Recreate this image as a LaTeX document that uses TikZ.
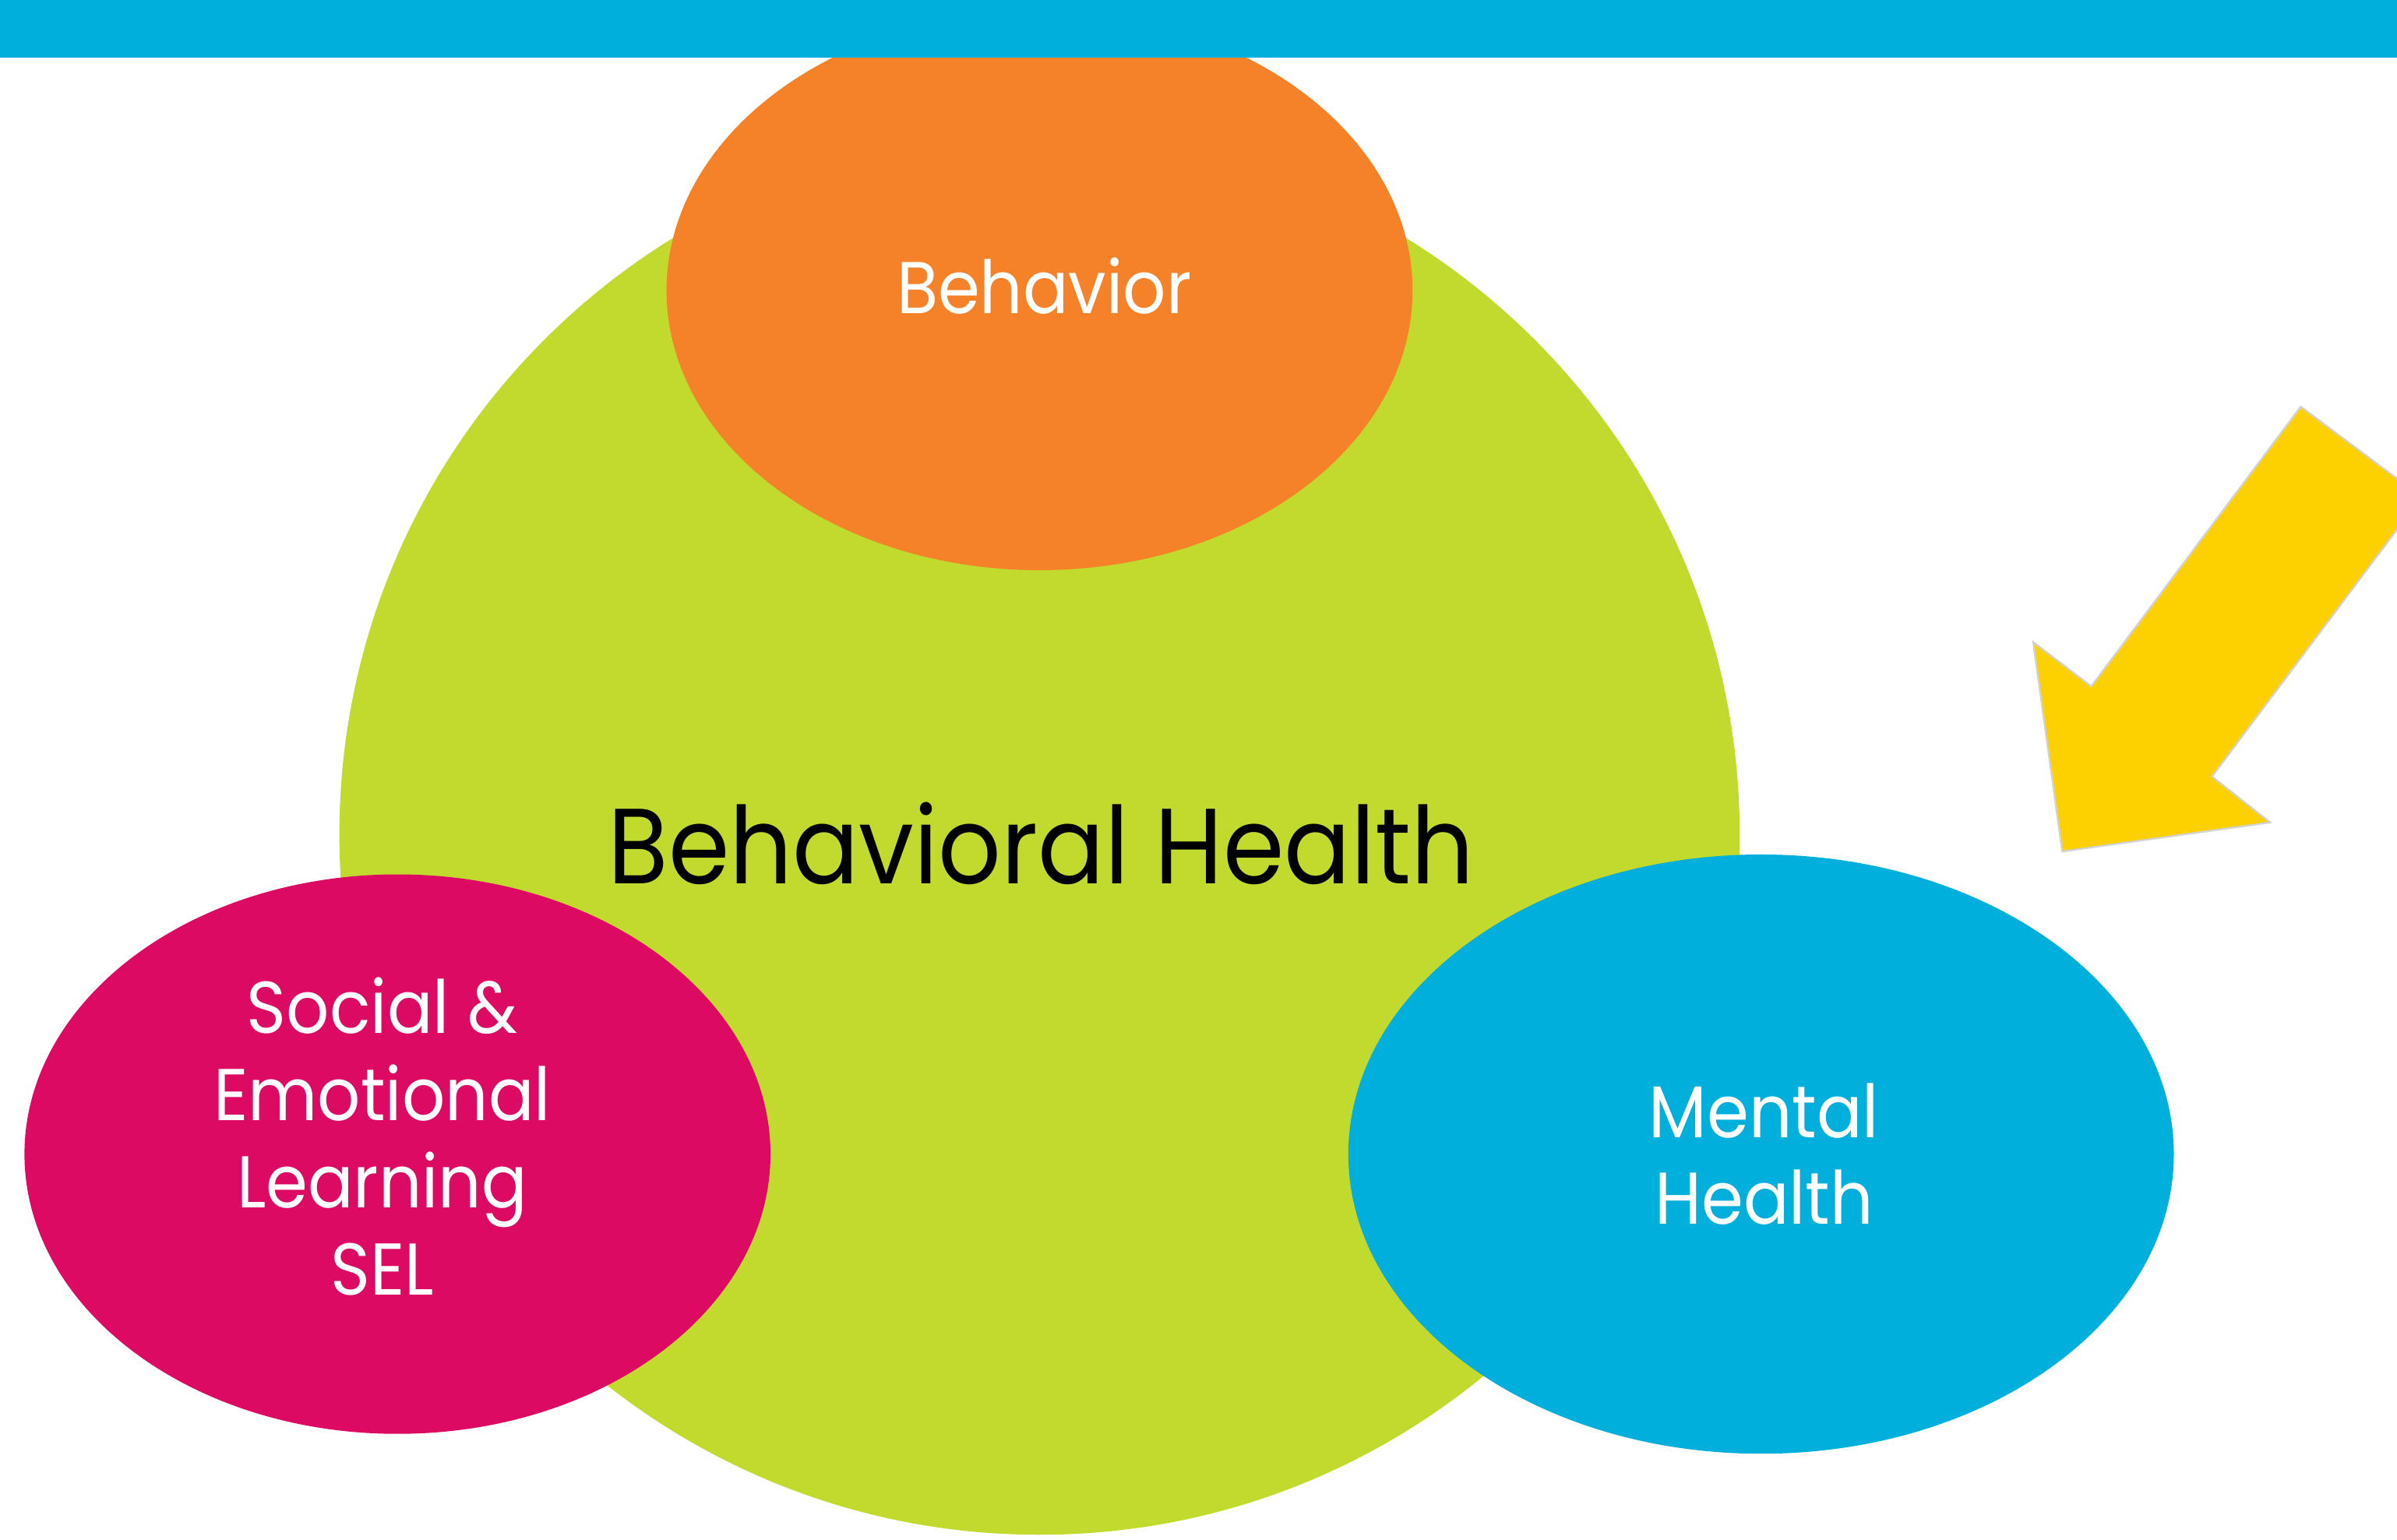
\documentclass[tikz,border=0pt]{standalone}
\usepackage{fontspec}
\setmainfont{Poppins}[FakeStretch=0.92]
\usetikzlibrary{shapes.geometric}
\definecolor{barblue}{RGB}{0,175,219}
\definecolor{bhgreen}{RGB}{194,217,46}
\definecolor{bhorange}{RGB}{245,130,40}
\definecolor{bhpink}{RGB}{220,10,98}
\definecolor{bhyellow}{RGB}{253,208,0}
\tikzset{
  blob/.style={ellipse, inner sep=0pt, draw=none},
  whitelbl/.style={text=white, font=\fontsize{24}{28.5}\selectfont, align=center, inner sep=0pt},
}
\begin{document}
\begin{tikzpicture}[x=0.5pt,y=-0.5pt]
\useasboundingbox (0,0) rectangle (1568,1007.4);
\node[circle, fill=bhgreen, minimum size=458pt, inner sep=0pt] (bh) at (680,546) {};
\node[anchor=base, font=\fontsize{35}{40}\selectfont, inner sep=0pt] (bhlabel) at (681,578) {Behavioral Health};
\node[blob, fill=bhorange, minimum width=244pt, minimum height=183pt] (beh) at (680,190) {};
\node[blob, fill=bhpink, minimum width=244pt, minimum height=183pt] (sel) at (260,755) {};
\node[blob, fill=barblue, minimum width=270pt, minimum height=196pt] (mh) at (1152,755) {};
\node[whitelbl, anchor=base] (behlabel) at (683,205) {Behavior};
\node[whitelbl, anchor=base] (sellabel) at (250,847) {Social \&\\Emotional\\Learning\\SEL};
\node[whitelbl, anchor=base] (mhlabel) at (1154,801) {Mental\\Health};
\fill[barblue] (0,0) rectangle (1568,37.7);
\filldraw[fill=bhyellow, draw=gray!35, line width=0.6pt] (1505,266) -- (1584,325) -- (1447,508) -- (1485,538) -- (1349,557) -- (1330,420) -- (1368,449) -- cycle;
\end{tikzpicture}
\end{document}
